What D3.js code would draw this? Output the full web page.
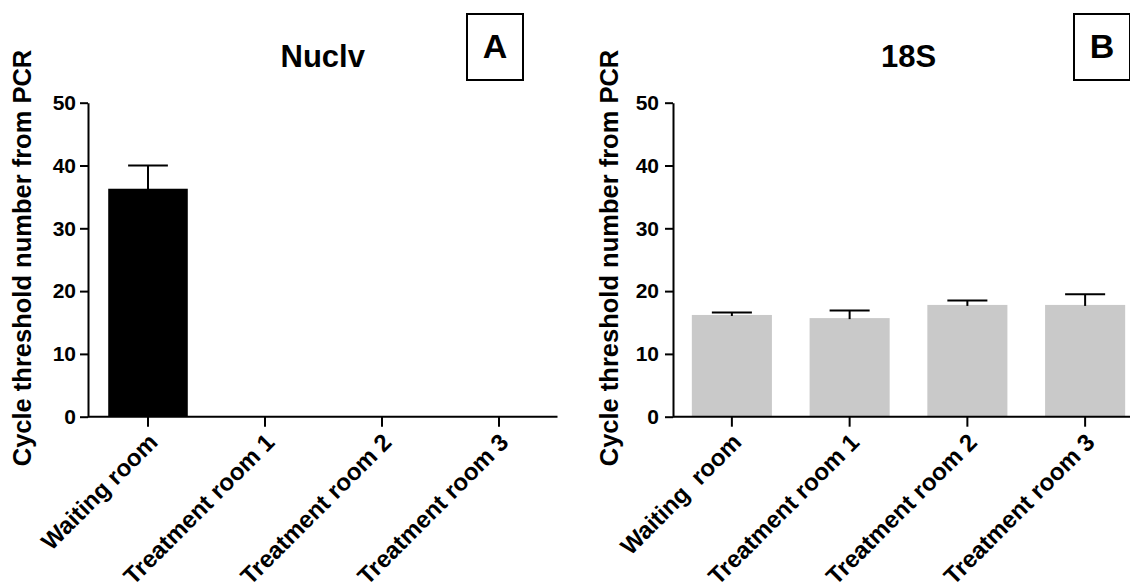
<!DOCTYPE html>
<meta charset="utf-8">
<script src="https://d3js.org/d3.v7.min.js"></script>
<style>
  body { margin: 0; background: white; }
  text { font-family: "Liberation Sans", Arial, sans-serif; font-weight: bold; fill: black; }
</style>
<div id="chart"></div>
<script>

// categories on the x axis (panel B has a double space in the first label)
var roomsA = ["Waiting room", "Treatment room 1", "Treatment room 2", "Treatment room 3"]
var roomsB = ["Waiting  room", "Treatment room 1", "Treatment room 2", "Treatment room 3"]

// mean Ct values and upper error (SD)
var nuclvCt = [36.3, 0, 0, 0]
var nuclvSd = [3.7, 0, 0, 0]
var s18Ct = [16.2, 15.7, 17.8, 17.8]
var s18Sd = [0.4, 1.2, 0.7, 1.7]

var yTicks = [0, 10, 20, 30, 40, 50]
var yTitle = "Cycle threshold number from PCR"

var width = 1130
var height = 583

var svg = d3.select("#chart").append("svg")
    .attr("width", width).attr("height", height)
    .style("background", "white")

var y = d3.scaleLinear().domain([0, 50]).range([416.7, 102.7])

function panel(p) {
  var g = svg.append("g")

  var x = d3.scaleBand()
      .domain(p.labels)
      .range(p.range)
      .paddingInner(0.32)
      .paddingOuter(0.16)

  var rows = p.labels.map(function(l, i) {
    return {label: l, value: p.values[i], err: p.errors[i]}
  }).filter(function(d) { return d.value > 0 })

  // bars
  g.selectAll(".bar")
    .data(rows)
    .enter()
    .append("rect")
      .attr("x", function(d) { return x(d.label) })
      .attr("y", function(d) { return y(d.value) })
      .attr("width", x.bandwidth())
      .attr("height", function(d) { return y(0) - y(d.value) })
      .attr("fill", p.fill)

  // error bars (upper only)
  g.selectAll(".stem")
    .data(rows)
    .enter()
    .append("line")
      .attr("x1", function(d) { return x(d.label) + x.bandwidth() / 2 })
      .attr("x2", function(d) { return x(d.label) + x.bandwidth() / 2 })
      .attr("y1", function(d) { return y(d.value) + 1 })
      .attr("y2", function(d) { return y(d.value + d.err) })
      .attr("stroke", "black")
      .attr("stroke-width", 2)
  g.selectAll(".cap")
    .data(rows)
    .enter()
    .append("line")
      .attr("x1", function(d) { return x(d.label) + x.bandwidth() / 4 })
      .attr("x2", function(d) { return x(d.label) + x.bandwidth() * 3 / 4 })
      .attr("y1", function(d) { return y(d.value + d.err) })
      .attr("y2", function(d) { return y(d.value + d.err) })
      .attr("stroke", "black")
      .attr("stroke-width", 2)

  // x axis
  var xa = g.append("g")
      .attr("transform", "translate(0," + y(0) + ")")
      .call(d3.axisBottom(x).tickSize(10).tickSizeOuter(0))
  xa.select(".domain").attr("d", "M" + p.axisX + ",0H" + p.range[1])
  xa.selectAll("path, line").attr("stroke", "black").attr("stroke-width", 2)
  xa.selectAll("text")
      .attr("x", 0).attr("y", 0).attr("dy", 0)
      .attr("text-anchor", "end")
      .attr("transform", "translate(11,27) rotate(-45)")
      .style("font-size", "24px")
      .style("white-space", "pre")

  // y axis
  var ya = g.append("g")
      .attr("transform", "translate(" + p.axisX + ",0)")
      .call(d3.axisLeft(y).tickValues(yTicks).tickSize(8).tickPadding(p.pad).tickSizeOuter(0))
  ya.selectAll("path, line").attr("stroke", "black").attr("stroke-width", 2)
  ya.selectAll("text").style("font-size", "21px")

  // y axis title
  g.append("text")
      .attr("transform", "translate(" + p.titleX + ",258) rotate(-90)")
      .attr("text-anchor", "middle")
      .style("font-size", "25.5px")
      .text(yTitle)

  // chart title
  g.append("text")
      .attr("x", (p.axisX + p.range[1]) / 2)
      .attr("y", 66.7)
      .attr("text-anchor", "middle")
      .style("font-size", "31px")
      .text(p.title)

  // panel letter in a box
  g.append("rect")
      .attr("x", p.box[0]).attr("y", 14)
      .attr("width", 56).attr("height", 66)
      .attr("fill", "none")
      .attr("stroke", "black")
      .attr("stroke-width", 2)
  g.append("text")
      .attr("x", p.box[0] + 28)
      .attr("y", 58)
      .attr("text-anchor", "middle")
      .style("font-size", "34px")
      .text(p.letter)
}

panel({labels: roomsA, values: nuclvCt, errors: nuclvSd, fill: "black",
       range: [89.5, 557.5], axisX: 88, pad: 4, titleX: 31,
       title: "Nuclv", letter: "A", box: [467]})

panel({labels: roomsB, values: s18Ct, errors: s18Sd, fill: "#c9c9c9",
       range: [673, 1144], axisX: 673, pad: 6, titleX: 618,
       title: "18S", letter: "B", box: [1074]})

</script>
